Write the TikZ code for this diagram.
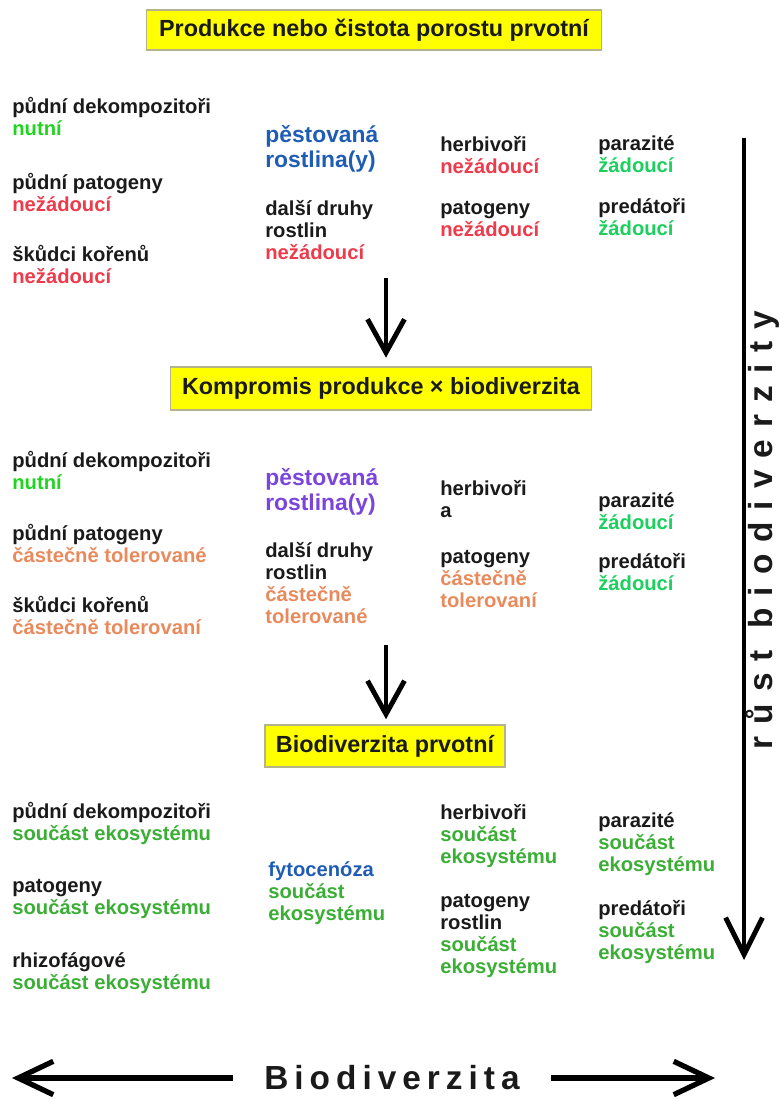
\documentclass[tikz,border=0pt]{standalone}
\usepackage{fontspec}
\setmainfont{Liberation Sans}
\usetikzlibrary{arrows.meta,positioning}
\definecolor{bdblack}{HTML}{1A1A1A}
\definecolor{bdyellow}{HTML}{FFFF00}
\definecolor{bdframe}{HTML}{B4B48C}
\definecolor{bdnut}{HTML}{22D422}
\definecolor{bdok}{HTML}{1CCF5E}
\definecolor{bdbad}{HTML}{EE3B4B}
\definecolor{bdpart}{HTML}{E98A5C}
\definecolor{bdeco}{HTML}{3AAE35}
\definecolor{bdblue}{HTML}{1F5DB5}
\definecolor{bdviolet}{HTML}{7A44DD}
\newcommand{\cnut}[1]{\textcolor{bdnut}{#1}}
\newcommand{\cok}[1]{\textcolor{bdok}{#1}}
\newcommand{\cbad}[1]{\textcolor{bdbad}{#1}}
\newcommand{\cpart}[1]{\textcolor{bdpart}{#1}}
\newcommand{\ceco}[1]{\textcolor{bdeco}{#1}}
\newcommand{\firstln}{\rule{0pt}{0.9em}}
\tikzset{
  headbox/.style ={draw=bdframe, line width=0.6pt, fill=bdyellow, text=bdblack,
                   inner sep=0pt, font=\fontsize{13.3}{15}\selectfont\bfseries},
  item/.style    ={anchor=north west, inner sep=0pt, align=left, text=bdblack,
                   font=\fontsize{11.5}{12.5}\selectfont\bfseries},
  cropitem/.style={item, font=\fontsize{13}{14.2}\selectfont\bfseries},
  downarrow/.style={line width=2.8pt, -{Straight Barb[length=19pt,width=21pt]}},
  growarrow/.style={line width=2.8pt, -{Straight Barb[length=21pt,width=21pt]}},
  widearrow/.style={line width=3pt, -{Straight Barb[length=20pt,width=19pt]}},
  spaced/.style  ={inner sep=0pt, text=bdblack,
                   font=\fontsize{19}{22}\selectfont\bfseries\addfontfeature{LetterSpace=18}},
}

\begin{document}
\begin{tikzpicture}[x=0.02cm, y=-0.02cm]
  \useasboundingbox (0,0) rectangle (779,1099);
  % yellow headings
  \node[headbox, minimum width=9.12cm, minimum height=0.8cm] (box1) at (374,30)
    {Produkce nebo čistota porostu prvotní};
  \node[headbox, minimum width=8.44cm, minimum height=0.86cm] (box2) at (381,388.5)
    {Kompromis produkce × biodiverzita};
  \node[headbox, minimum width=4.8cm, minimum height=0.84cm] (box3) at (385,746)
    {Biodiverzita prvotní};

  % production
  \node[item] (dek1) at (12,95) {\firstln půdní dekompozitoři\\\cnut{nutní}};
  \node[item] (pat1) at (12,171) {\firstln půdní patogeny\\\cbad{nežádoucí}};
  \node[item] (root1) at (12,243) {\firstln škůdci kořenů\\\cbad{nežádoucí}};
  \node[cropitem, text=bdblue] (crop1) at (265,122) {\firstln pěstovaná\\rostlina(y)};
  \node[item] (weed1) at (265,197) {\firstln další druhy\\rostlin\\\cbad{nežádoucí}};
  \node[item] (herb1) at (440,133) {\firstln herbivoři\\\cbad{nežádoucí}};
  \node[item] (patg1) at (440,196) {\firstln patogeny\\\cbad{nežádoucí}};
  \node[item] (par1) at (598,132) {\firstln parazité\\\cok{žádoucí}};
  \node[item] (pred1) at (598,195) {\firstln predátoři\\\cok{žádoucí}};

  % compromise
  \node[item] (dek2) at (12,449) {\firstln půdní dekompozitoři\\\cnut{nutní}};
  \node[item] (pat2) at (12,522) {\firstln půdní patogeny\\\cpart{částečně tolerované}};
  \node[item] (root2) at (12,594) {\firstln škůdci kořenů\\\cpart{částečně tolerovaní}};
  \node[cropitem, text=bdviolet] (crop2) at (265,465) {\firstln pěstovaná\\rostlina(y)};
  \node[item] (weed2) at (265,539)
    {\firstln další druhy\\rostlin\\\cpart{částečně}\\\cpart{tolerované}};
  \node[item] (herb2) at (440,477) {\firstln herbivoři\\a};
  \node[item] (patg2) at (440,545) {\firstln patogeny\\\cpart{částečně}\\\cpart{tolerovaní}};
  \node[item] (par2) at (598,489) {\firstln parazité\\\cok{žádoucí}};
  \node[item] (pred2) at (598,550) {\firstln predátoři\\\cok{žádoucí}};

  % biodiversity
  \node[item] (dek3) at (12,800) {\firstln půdní dekompozitoři\\\ceco{součást ekosystému}};
  \node[item] (pat3) at (12,874) {\firstln patogeny\\\ceco{součást ekosystému}};
  \node[item] (root3) at (12,949) {\firstln rhizofágové\\\ceco{součást ekosystému}};
  \node[item] (phyto3) at (268,858)
    {\firstln\textcolor{bdblue}{fytocenóza}\\\ceco{součást}\\\ceco{ekosystému}};
  \node[item] (herb3) at (440,801) {\firstln herbivoři\\\ceco{součást}\\\ceco{ekosystému}};
  \node[item] (patg3) at (440,889)
    {\firstln patogeny\\rostlin\\\ceco{součást}\\\ceco{ekosystému}};
  \node[item] (par3) at (598,809) {\firstln parazité\\\ceco{součást}\\\ceco{ekosystému}};
  \node[item] (pred3) at (598,897) {\firstln predátoři\\\ceco{součást}\\\ceco{ekosystému}};

  % steps down
  \coordinate (a1) at (386,278);
  \draw[downarrow, shorten >=5pt] (a1) -- (a1 |- box2.north);
  \coordinate (a2) at (386,645);
  \draw[downarrow, shorten >=3pt] (a2) -- (a2 |- box3.north);

  % growth of biodiversity
  \coordinate (gtop) at (744,138);
  \coordinate (gbot) at (744,960);
  \draw[growarrow] (gtop) -- (gbot);
  \node[spaced, rotate=90,
        font=\fontsize{19}{22}\selectfont\bfseries\addfontfeature{LetterSpace=36}]
    (growlabel) at (763,530) {růst biodiverzity};

  % bottom axis
  \node[spaced, inner xsep=0.62cm] (bdlabel) at (392,1078) {Biodiverzita};
  \coordinate (bleft) at (12,1078);
  \coordinate (bright) at (715,1078);
  \draw[widearrow] (bdlabel) -- (bleft);
  \draw[widearrow] (bdlabel) -- (bright);
\end{tikzpicture}
\end{document}
